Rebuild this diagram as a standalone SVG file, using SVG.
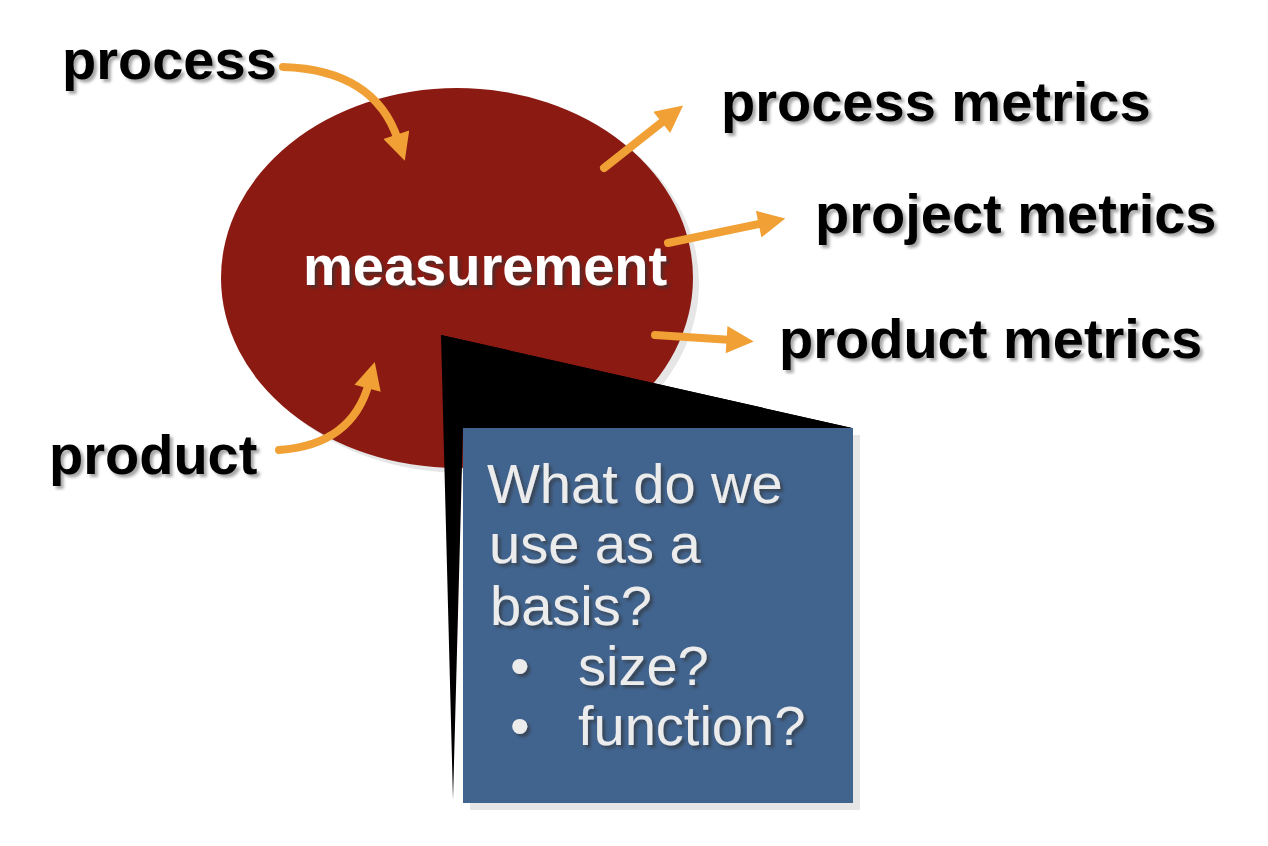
<svg xmlns="http://www.w3.org/2000/svg" width="1268" height="846" viewBox="0 0 1268 846">
<defs>
<filter id="sh" x="-10%" y="-20%" width="130%" height="150%">
<feDropShadow dx="3" dy="3" stdDeviation="1.5" flood-color="#000" flood-opacity="0.35"/>
</filter>
<filter id="shw" x="-10%" y="-20%" width="130%" height="150%">
<feDropShadow dx="3" dy="3" stdDeviation="1.5" flood-color="#333" flood-opacity="0.6"/>
</filter>
<marker id="ah" viewBox="0 0 10 10" refX="2" refY="5" markerWidth="3.6" markerHeight="3.4" orient="auto" markerUnits="strokeWidth">
<path d="M0,0 L10,5 L0,10 Z" fill="#F0A035"/>
</marker>
</defs>
<style>
.lbl{font-family:"Liberation Sans",Arial,sans-serif;font-weight:bold;font-size:56px;fill:#000}
.box{font-family:"Liberation Sans",Arial,sans-serif;font-size:56px;fill:#ECECEC}
.arr{fill:none;stroke:#F0A035;stroke-width:8;stroke-linecap:round;marker-end:url(#ah)}
</style>
<rect width="1268" height="846" fill="#fff"/>
<g id="measurement">
<ellipse cx="463" cy="283" rx="236" ry="190" fill="#E6E6E6"/>
<ellipse cx="457" cy="278" rx="236" ry="190" fill="#8B1A12"/>
<text class="lbl" x="303" y="285" fill="#fff" style="fill:#fff" filter="url(#shw)">measurement</text>
</g>
<g id="process"><text class="lbl" x="62" y="79" filter="url(#sh)">process</text></g>
<g id="product"><text class="lbl" x="49" y="474" filter="url(#sh)">product</text></g>
<g id="process-metrics"><text class="lbl" x="721" y="121" filter="url(#sh)">process metrics</text></g>
<g id="project-metrics"><text class="lbl" x="815" y="233" filter="url(#sh)">project metrics</text></g>
<g id="product-metrics"><text class="lbl" x="779" y="358" filter="url(#sh)">product metrics</text></g>
<g id="connectors">
<path class="arr" d="M283,67 Q375,70 398,140"/>
<path class="arr" d="M279,450 Q352,445 369,383"/>
<path class="arr" d="M604,168 L666,119"/>
<path class="arr" d="M668,243 L764,223"/>
<path class="arr" d="M655,335 L732,340"/>
</g>
<g id="callout">
<polygon points="441,335 852,428 463,428 453,800" fill="#000"/>
<rect x="470" y="435" width="390" height="375" fill="#E6E6E6"/>
<rect x="463" y="428" width="390" height="375" fill="#41648F"/>
<polygon points="441,335 852,428 467,428" fill="#000"/>
<g filter="url(#shw)">
<text class="box" x="487" y="503">What do we</text>
<text class="box" x="489" y="563">use as a</text>
<text class="box" x="490" y="625">basis?</text>
<text class="box" x="510" y="685">•</text>
<text class="box" x="578" y="685">size?</text>
<text class="box" x="510" y="745">•</text>
<text class="box" x="578" y="745">function?</text>
</g>
</g>
</svg>
